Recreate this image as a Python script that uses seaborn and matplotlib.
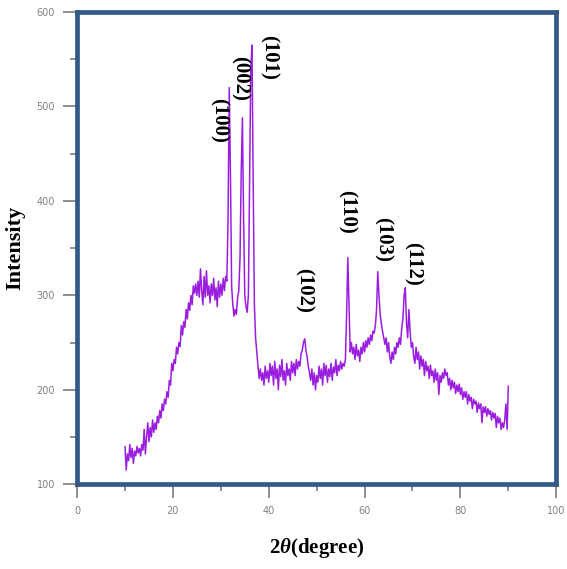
import numpy as np
import matplotlib
matplotlib.use("Agg")
import matplotlib.pyplot as plt
from matplotlib.ticker import MultipleLocator
import seaborn as sns

# scan range (2theta, step 0.25)
scan_start = 10
scan_end = 90

intensity = [
    140, 115, 132, 125, 142, 128, 138, 122, 135, 130, 140, 133, 138, 130, 142, 136, 158, 132, 150, 165,
    145, 160, 150, 168, 155, 165, 158, 172, 165, 178, 170, 185, 178, 190, 185, 198, 192, 210, 205, 228,
    220, 232, 228, 245, 238, 250, 246, 268, 258, 272, 266, 285, 275, 292, 284, 300, 290, 310, 302, 312,
    300, 315, 298, 328, 305, 290, 320, 298, 326, 300, 310, 292, 312, 300, 318, 295, 308, 288, 315, 298,
    312, 300, 318, 305, 320, 315, 380, 520, 430, 310, 290, 278, 285, 280, 298, 305, 340, 430, 488, 380,
    300, 288, 282, 300, 420, 540, 565, 420, 290, 255, 240, 225, 212, 222, 210, 218, 205, 225, 212, 220,
    208, 228, 215, 225, 205, 230, 212, 222, 200, 226, 214, 232, 210, 220, 205, 228, 215, 222, 210, 230,
    218, 228, 215, 232, 222, 230, 225, 238, 242, 250, 254, 242, 235, 225, 218, 210, 222, 205, 218, 200,
    215, 208, 225, 212, 222, 205, 228, 215, 226, 208, 222, 214, 228, 210, 224, 218, 232, 215, 226, 220,
    230, 222, 228, 225, 232, 280, 340, 290, 240, 250, 238, 245, 232, 248, 236, 242, 230, 245, 238, 250,
    240, 252, 245, 255, 248, 258, 252, 262, 260, 268, 285, 325, 300, 280, 270, 262, 255, 248, 255, 240,
    250, 235, 228, 240, 232, 245, 238, 250, 245, 255, 248, 265, 275, 300, 308, 270, 255, 285, 262, 245,
    250, 235, 228, 245, 232, 240, 222, 236, 225, 232, 215, 230, 220, 225, 212, 226, 215, 220, 208, 222,
    210, 218, 195, 215, 208, 218, 212, 222, 215, 218, 205, 212, 200, 210, 202, 208, 196, 205, 198, 206,
    195, 202, 190, 198, 192, 198, 185, 195, 188, 192, 180, 190, 185, 188, 176, 186, 180, 185, 165, 182,
    176, 182, 172, 180, 174, 178, 168, 176, 170, 175, 160, 172, 165, 170, 158, 165, 160, 168, 185, 158, 204,
]

planes = ["(100)", "(002)", "(101)", "(102)", "(110)", "(103)", "(112)"]
plane_x = [29.6, 34.0, 40.0, 47.3, 56.2, 63.7, 70.1]
plane_y = [485, 530, 552, 305, 388, 359, 333]

two_theta = np.linspace(scan_start, scan_end, len(intensity))

sns.set_style("white")
plt.rcParams['font.family'] = ['DejaVu Sans']
plt.rcParams['mathtext.fontset'] = 'custom'
plt.rcParams['mathtext.it'] = 'Liberation Serif:italic:bold'
plt.rcParams['mathtext.rm'] = 'Liberation Serif:bold'

fig = plt.figure(figsize=(5.67, 5.69), dpi=100)
ax = fig.add_axes([0.136, 0.149, 0.845, 0.830])

sns.lineplot(x=two_theta, y=intensity, color='#9a1ee0', linewidth=1.1, ax=ax)

for lab, px, py in zip(planes, plane_x, plane_y):
    ax.text(px, py, lab, rotation=-90, ha='center', va='center', color='black',
            fontsize=15, fontweight='bold', family='Liberation Serif')

ax.set_xlim(0, 100)
ax.set_ylim(100, 600)
ax.xaxis.set_major_locator(MultipleLocator(20))
ax.xaxis.set_minor_locator(MultipleLocator(10))
ax.yaxis.set_major_locator(MultipleLocator(100))
ax.yaxis.set_minor_locator(MultipleLocator(50))

for s in ax.spines.values():
    s.set_color('#365a88')
    s.set_linewidth(3.4)

ax.tick_params(which='major', direction='out', length=10, width=1.1, color='#707070',
               labelsize=7, labelcolor='#808080', pad=6, left=True, bottom=True)
ax.tick_params(which='minor', direction='out', length=5, width=1.1, color='#707070',
               left=True, bottom=True)

ax.set_xlabel(r'2$\mathit{\theta}$(degree)', fontsize=15, fontweight='bold', color='black',
              family='Liberation Serif', labelpad=14)
ax.set_ylabel('Intensity', fontsize=16, fontweight='bold', color='black',
              family='Liberation Serif', labelpad=8)

fig.savefig('out.png', dpi=100)
